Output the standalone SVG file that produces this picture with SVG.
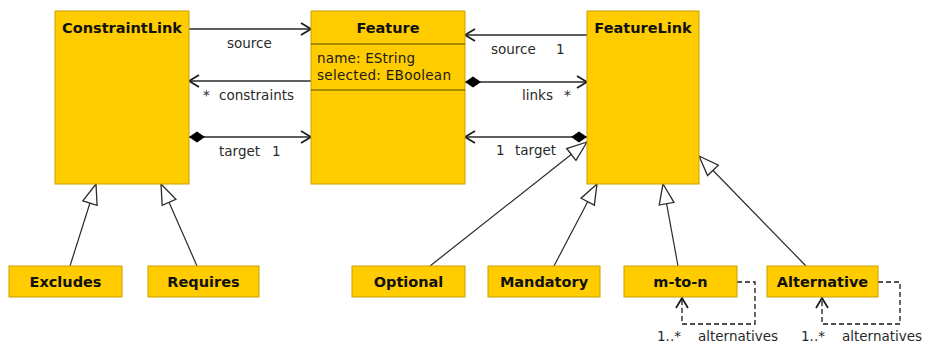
<svg xmlns="http://www.w3.org/2000/svg" width="925" height="347" viewBox="0 0 925 347">
  <style>
    .cls { fill: #FFCC00; stroke: #C9A000; stroke-width: 1; }
    .sep { stroke: #5a4800; stroke-width: 1.2; }
    .title { font-family: "DejaVu Sans", sans-serif; font-weight: bold; font-size: 14.5px; fill: #111; text-anchor: middle; }
    .attr { font-family: "DejaVu Sans", sans-serif; font-size: 13.5px; fill: #1a1a1a; }
    .lbl { font-family: "DejaVu Sans", sans-serif; font-size: 13.5px; fill: #2a2a2a; }
    .assoc { fill: none; stroke: #2a2a2a; stroke-width: 1.3; }
    .gen { fill: none; stroke: #2a2a2a; stroke-width: 1.2; marker-end: url(#hollow); }
    .loop { fill: none; stroke: #1a1a1a; stroke-width: 1.3; stroke-dasharray: 5 3; marker-end: url(#open); }
  </style>
  <defs>
    <marker id="open" markerUnits="userSpaceOnUse" viewBox="-12 -8 14 16" markerWidth="14" markerHeight="16" refX="0" refY="0" orient="auto">
      <path d="M-10,-6 L0,0 L-10,6" fill="none" stroke="#1a1a1a" stroke-width="1.7"/>
    </marker>
    <marker id="diamond" markerUnits="userSpaceOnUse" viewBox="-1 -7 19 14" markerWidth="19" markerHeight="14" refX="0" refY="0" orient="auto">
      <path d="M0,0 L8,-5.5 L16,0 L8,5.5 Z" fill="#000"/>
    </marker>
    <marker id="hollow" markerUnits="userSpaceOnUse" viewBox="-22 -10 24 20" markerWidth="24" markerHeight="20" refX="0" refY="0" orient="auto">
      <path d="M0,0 L-20,-7.5 L-20,7.5 Z" fill="#fff" stroke="#2a2a2a" stroke-width="1.3"/>
    </marker>
  </defs>

  <!-- associations, generalizations and self references -->
  <g id="connectors">
    <path class="assoc" d="M189,29 H311" marker-end="url(#open)"/>
    <path class="assoc" d="M311,81 H189" marker-end="url(#open)"/>
    <path class="assoc" d="M189,137 H311" marker-start="url(#diamond)" marker-end="url(#open)"/>
    <path class="assoc" d="M587,35 H465" marker-end="url(#open)"/>
    <path class="assoc" d="M465,82 H587" marker-start="url(#diamond)" marker-end="url(#open)"/>
    <path class="assoc" d="M587,137 H465" marker-start="url(#diamond)" marker-end="url(#open)"/>

    <path class="gen" d="M70,266 L96,184"/>
    <path class="gen" d="M197,266 L161,184"/>
    <path class="gen" d="M430,266 L587,142"/>
    <path class="gen" d="M554,266 L597,184"/>
    <path class="gen" d="M678,266 L663,184"/>
    <path class="gen" d="M806,266 L699,156"/>

    <path class="loop" d="M737,282 H755 V324 H682 V298"/>
    <path class="loop" d="M878,282 H900 V324 H822 V298"/>

    <text class="lbl" x="227" y="48">source</text>
    <text class="lbl" x="203" y="100">*</text>
    <text class="lbl" x="219" y="100">constraints</text>
    <text class="lbl" x="219" y="156">target</text>
    <text class="lbl" x="272" y="156">1</text>
    <text class="lbl" x="491" y="54">source</text>
    <text class="lbl" x="556" y="54">1</text>
    <text class="lbl" x="522" y="100">links</text>
    <text class="lbl" x="564" y="100">*</text>
    <text class="lbl" x="496" y="155">1</text>
    <text class="lbl" x="515" y="155">target</text>
    <text class="lbl" x="657" y="341">1..*</text>
    <text class="lbl" x="698" y="341">alternatives</text>
    <text class="lbl" x="801" y="341">1..*</text>
    <text class="lbl" x="842" y="341">alternatives</text>
  </g>

  <g id="ConstraintLink">
    <rect class="cls" x="55" y="11" width="134" height="173"/>
    <text class="title" x="122" y="33">ConstraintLink</text>
  </g>

  <g id="Feature">
    <rect class="cls" x="311" y="11" width="154" height="173"/>
    <text class="title" x="388" y="33">Feature</text>
    <line class="sep" x1="311" y1="44" x2="465" y2="44"/>
    <text class="attr" x="317" y="63" textLength="98">name: EString</text>
    <text class="attr" x="317" y="80" textLength="134">selected: EBoolean</text>
    <line class="sep" x1="311" y1="90" x2="465" y2="90"/>
  </g>

  <g id="FeatureLink">
    <rect class="cls" x="587" y="11" width="112" height="173"/>
    <text class="title" x="643" y="33">FeatureLink</text>
  </g>

  <g id="Excludes">
    <rect class="cls" x="9" y="266" width="113" height="31"/>
    <text class="title" x="65.5" y="287">Excludes</text>
  </g>

  <g id="Requires">
    <rect class="cls" x="148" y="266" width="111" height="31"/>
    <text class="title" x="203.5" y="287">Requires</text>
  </g>

  <g id="Optional">
    <rect class="cls" x="352" y="266" width="113" height="31"/>
    <text class="title" x="408.5" y="287">Optional</text>
  </g>

  <g id="Mandatory">
    <rect class="cls" x="488" y="266" width="112" height="31"/>
    <text class="title" x="544" y="287">Mandatory</text>
  </g>

  <g id="m-to-n">
    <rect class="cls" x="624" y="266" width="113" height="31"/>
    <text class="title" x="680.5" y="287">m-to-n</text>
  </g>

  <g id="Alternative">
    <rect class="cls" x="767" y="266" width="111" height="31"/>
    <text class="title" x="822.5" y="287">Alternative</text>
  </g>
</svg>
